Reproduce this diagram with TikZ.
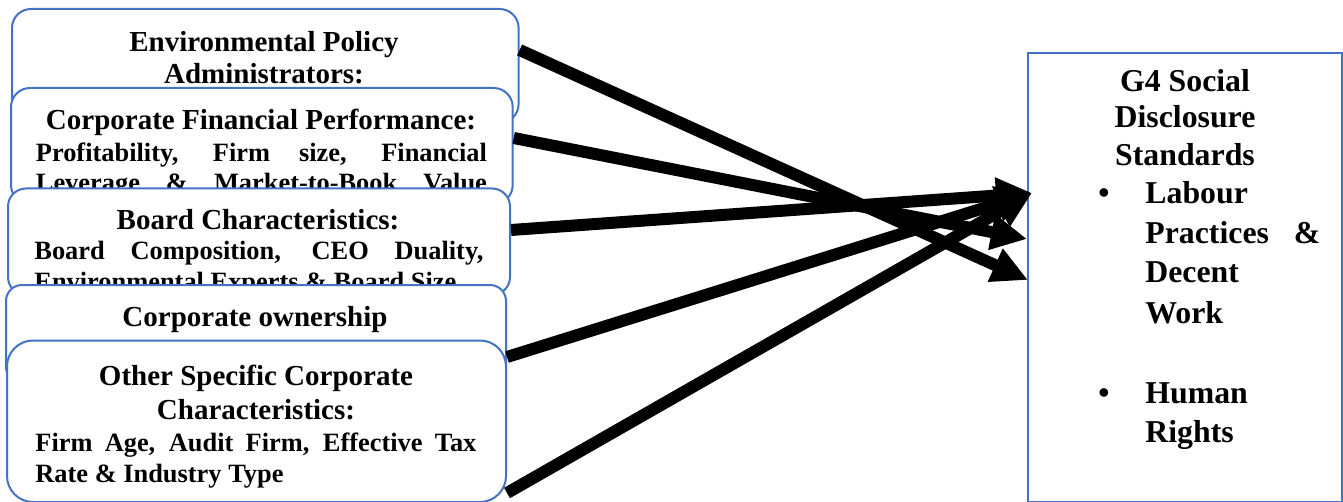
\documentclass[tikz,border=0pt]{standalone}
\usepackage{fontspec}
\setmainfont{Liberation Serif}
\usetikzlibrary{arrows.meta,calc}
\definecolor{wordblue}{HTML}{4472C4}
\newcommand{\ttlfont}{\fontsize{14.5}{17}\selectfont\bfseries}
\newcommand{\bdyfont}{\fontsize{13.2}{16}\selectfont\bfseries}
\newcommand{\rgtfont}{\fontsize{15.9}{19}\selectfont\bfseries}
\begin{document}
\begin{tikzpicture}[x=0.5pt,y=-0.5pt,
  lbox/.style={draw=wordblue, line width=1pt, fill=white, anchor=north west, inner sep=0pt},
  tl/.style={anchor=base, inner sep=0pt, font=\ttlfont},
  bl/.style={anchor=base west, inner sep=0pt, font=\bdyfont},
  rl/.style={anchor=base, inner sep=0pt, font=\rgtfont},
  rb/.style={anchor=base west, inner sep=0pt, font=\rgtfont},
  arr/.style={line width=6pt, -{Triangle[length=18pt,width=17pt]}, black}
]
\useasboundingbox (0,0) rectangle (1343,502);

% Box 1
\node[lbox, minimum width=253.3pt, minimum height=57pt, rounded corners=9.5pt] (b1) at (11,8) {};
\node[tl] (t1a) at (264,52) {Environmental Policy};
\node[tl] (t1b) at (264,84) {Administrators:};

% Box 2
\node[lbox, minimum width=250.85pt, minimum height=58pt, rounded corners=9.5pt] (b2) at (10,87) {};
\node[tl] (t2a) at (261,130) {Corporate Financial Performance:};
\node[bl] (t2b) at (35.5,162) {\makebox[225.5pt][s]{Profitability, Firm size, Financial}};
\node[bl] (t2c) at (35.5,192) {\makebox[225.5pt][s]{Leverage \& Market-to-Book Value}};

% Box 3
\node[lbox, minimum width=251pt, minimum height=53.25pt, rounded corners=9pt] (b3) at (7,187.5) {};
\node[tl] (t3a) at (258,230) {Board Characteristics:};
\node[bl] (t3b) at (34,260) {\makebox[224.5pt][s]{Board Composition, CEO Duality,}};
\node[bl] (t3c) at (34,291) {Environmental Experts \& Board Size};

% Box 4
\node[lbox, minimum width=250pt, minimum height=49pt, rounded corners=8pt] (b4) at (5,284) {};
\node[tl] (t4a) at (255,326) {Corporate ownership};

% Box 5
\node[lbox, minimum width=249.5pt, minimum height=80.75pt, rounded corners=13pt] (b5) at (6,339.5) {};
\node[tl] (t5a) at (256,385) {Other Specific Corporate};
\node[tl] (t5b) at (256,419) {Characteristics:};
\node[bl] (t5c) at (35,451) {\makebox[220.5pt][s]{Firm Age, Audit Firm, Effective Tax}};
\node[bl] (t5d) at (35,482) {Rate \& Industry Type};

% Right box
\node[draw=wordblue, line width=1pt, anchor=north west, inner sep=0pt, minimum width=157pt, minimum height=224.5pt] (g4) at (1027,52) {};
\node[rl] (r1) at (1185,92) {G4 Social};
\node[rl] (r2) at (1185,128) {Disclosure};
\node[rl] (r3) at (1185,166) {Standards};
\node[rl] (bu1) at (1104,204) {•};
\node[rb] (r4) at (1145,204) {Labour};
\node[rb] (r5) at (1145,243) {\makebox[87.5pt][s]{Practices \&}};
\node[rb] (r6) at (1145,283) {Decent};
\node[rb] (r7) at (1145,323) {Work};
\node[rl] (bu2) at (1104,403) {•};
\node[rb] (r8) at (1145,403) {Human};
\node[rb] (r9) at (1145,442) {Rights};

% Arrows
\draw[arr] (b1.east |- 0,50) -- ($(g4.west |- 0,280)+(1,0)$);
\draw[arr] (b2.east |- 0,138) -- (g4.west |- 0,239);
\draw[arr] (b3.east |- 0,230) -- ($(g4.west |- 0,193)+(5,0)$);
\draw[arr] (b4.east |- 0,357) -- ($(g4.west |- 0,193)+(5,0)$);
\draw[arr] (b5.east |- 0,493) -- ($(g4.west |- 0,193)+(5,0)$);
\end{tikzpicture}
\end{document}
